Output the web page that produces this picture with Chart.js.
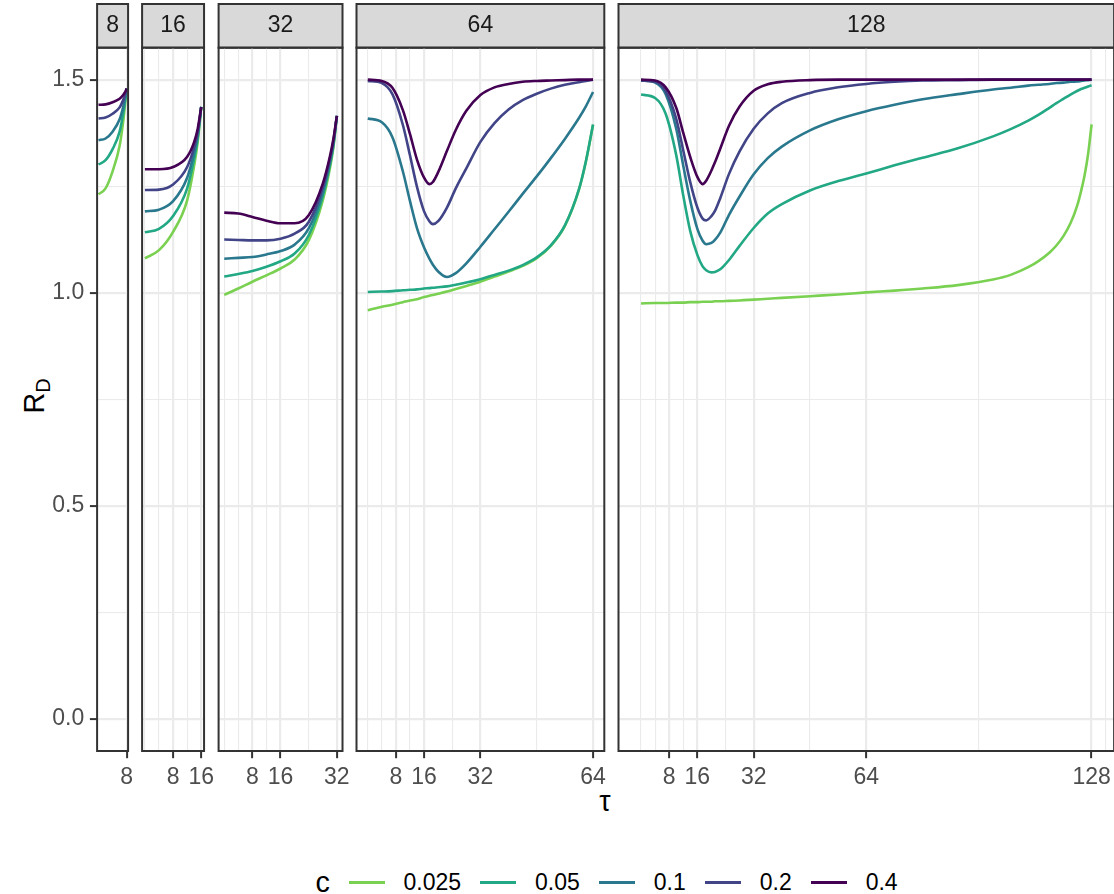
<!DOCTYPE html>
<html>
<head>
<meta charset="utf-8">
<script src="https://cdn.jsdelivr.net/npm/chart.js@4.4.1/dist/chart.umd.min.js"></script>
<style>
  html, body { margin: 0; padding: 0; background: #fff; overflow: hidden; }
  body { width: 1114px; height: 894px; position: relative; font-family: "Liberation Sans", Arial, sans-serif; }
  canvas { position: absolute; top: 0; }
  .ytitle { position: absolute; left: 36px; top: 396px; transform: translate(-50%, -50%) rotate(-90deg);
            font-size: 28.7px; line-height: 1; white-space: nowrap; color: #000; }
  .ytitle sub { font-size: 20px; vertical-align: -0.3em; }
  .xtitle { position: absolute; left: 605px; top: 801px; transform: translate(-50%, -50%);
            font-size: 28.7px; line-height: 1; color: #000; }
  #legend { position: absolute; left: 315.6px; top: 860px; height: 45px; display: flex; align-items: center; color: #000; }
  .ltitle { font-size: 28.7px; margin-right: 14px; line-height: 1; }
  .lkey { width: 45.2px; height: 45px; position: relative; margin-right: 14.4px; }
  .lkey i { position: absolute; left: 4.6px; right: 4.6px; top: 21.2px; height: 2.6px; }
  .llab { font-size: 23px; margin-right: 14.4px; line-height: 1; }
</style>
</head>
<body>
<div class="ytitle">R<sub>D</sub></div>
<div class="xtitle">τ</div>
<div id="legend"></div>
<script>
// facets (N) and colour groups (c)
const panelSizes = [8, 16, 32, 64, 128];
const cLabels = ["0.025", "0.05", "0.1", "0.2", "0.4"];
const xBreaks = [8, 16, 32, 64, 128];
const yBreaks = [0, 0.5, 1, 1.5];
const yMinor = [0.25, 0.75, 1.25];

// rows follow cLabels: 0.025, 0.05, 0.1, 0.2, 0.4
const tau8 = [0, 2, 4, 6, 7, 7.5, 8];
const rd8 = [
  [1.231, 1.245, 1.285, 1.345, 1.401, 1.438, 1.479],
  [1.301, 1.311, 1.337, 1.378, 1.420, 1.447, 1.479],
  [1.358, 1.362, 1.378, 1.407, 1.436, 1.455, 1.479],
  [1.409, 1.411, 1.420, 1.435, 1.452, 1.463, 1.479],
  [1.441, 1.442, 1.447, 1.455, 1.464, 1.470, 1.479]
];

const tau16 = [0, 4, 8, 12, 14, 15, 16];
const rd16 = [
  [1.081, 1.100, 1.143, 1.217, 1.299, 1.354, 1.436],
  [1.142, 1.150, 1.180, 1.245, 1.315, 1.362, 1.436],
  [1.191, 1.195, 1.215, 1.270, 1.329, 1.370, 1.436],
  [1.241, 1.242, 1.254, 1.295, 1.342, 1.377, 1.436],
  [1.290, 1.290, 1.295, 1.319, 1.354, 1.385, 1.436]
];

const tau32 = [0, 4, 8, 12, 16, 20, 24, 28, 30, 31, 32];
const rd32 = [
  [0.995, 1.010, 1.026, 1.041, 1.057, 1.078, 1.123, 1.217, 1.291, 1.340, 1.415],
  [1.038, 1.044, 1.051, 1.061, 1.074, 1.092, 1.135, 1.227, 1.299, 1.345, 1.415],
  [1.080, 1.082, 1.084, 1.090, 1.098, 1.113, 1.151, 1.237, 1.306, 1.350, 1.415],
  [1.125, 1.124, 1.123, 1.123, 1.127, 1.139, 1.166, 1.247, 1.313, 1.355, 1.415],
  [1.188, 1.186, 1.178, 1.169, 1.163, 1.163, 1.182, 1.256, 1.319, 1.360, 1.415]
];

const tau64 = [0, 4, 7, 10, 12, 14, 16, 17.5, 18.5, 20, 22.5, 25, 28, 32, 36, 40, 44, 48, 52, 56, 60, 62, 64];
const rd64 = [
  [0.959, 0.967, 0.972, 0.978, 0.982, 0.985, 0.990, 0.993, 0.995, 0.998, 1.003, 1.009, 1.016, 1.026, 1.038, 1.050, 1.063, 1.081, 1.110, 1.157, 1.242, 1.309, 1.394],
  [1.002, 1.003, 1.004, 1.006, 1.007, 1.008, 1.010, 1.011, 1.012, 1.013, 1.015, 1.019, 1.024, 1.032, 1.042, 1.052, 1.065, 1.083, 1.111, 1.158, 1.243, 1.310, 1.395],
  [1.409, 1.400, 1.365, 1.284, 1.215, 1.151, 1.106, 1.080, 1.066, 1.050, 1.037, 1.046, 1.069, 1.108, 1.149, 1.190, 1.232, 1.273, 1.316, 1.361, 1.410, 1.438, 1.471],
  [1.497, 1.492, 1.466, 1.393, 1.322, 1.248, 1.191, 1.168, 1.161, 1.168, 1.200, 1.245, 1.292, 1.354, 1.398, 1.430, 1.452, 1.467, 1.479, 1.488, 1.494, 1.497, 1.500],
  [1.500, 1.497, 1.481, 1.428, 1.372, 1.312, 1.270, 1.255, 1.260, 1.283, 1.333, 1.382, 1.427, 1.464, 1.482, 1.490, 1.495, 1.497, 1.498, 1.499, 1.500, 1.500, 1.500]
];

const tau128 = [0, 4, 7, 10, 12, 14, 16, 17.5, 18.5, 20, 21, 22.5, 25, 28, 32, 36, 40, 48, 56, 64, 72, 80, 90, 100,
                105, 110, 113, 116, 118, 120, 122, 124, 125, 126, 127, 128];
const rd128 = [
  [0.975, 0.976, 0.976, 0.977, 0.977, 0.978, 0.978, 0.979, 0.979, 0.979, 0.980, 0.980, 0.981, 0.982, 0.984, 0.986, 0.988, 0.992, 0.996, 1.001, 1.005, 1.010, 1.018, 1.031,
   1.042, 1.060, 1.075, 1.094, 1.111, 1.133, 1.163, 1.207, 1.238, 1.275, 1.325, 1.395],
  [1.465, 1.457, 1.420, 1.323, 1.228, 1.144, 1.089, 1.062, 1.053, 1.048, 1.049, 1.055, 1.077, 1.110, 1.152, 1.186, 1.208, 1.240, 1.262, 1.280, 1.299, 1.317, 1.339, 1.367,
   1.384, 1.404, 1.418, 1.434, 1.445, 1.455, 1.465, 1.474, 1.478, 1.481, 1.484, 1.487],
  [1.498, 1.493, 1.466, 1.385, 1.298, 1.215, 1.150, 1.122, 1.114, 1.117, 1.124, 1.141, 1.183, 1.226, 1.278, 1.316, 1.343, 1.381, 1.407, 1.426, 1.441, 1.454, 1.466, 1.477,
   1.481, 1.486, 1.488, 1.490, 1.492, 1.493, 1.495, 1.496, 1.497, 1.498, 1.499, 1.500],
  [1.498, 1.495, 1.473, 1.408, 1.334, 1.259, 1.200, 1.174, 1.170, 1.180, 1.192, 1.222, 1.279, 1.332, 1.385, 1.421, 1.445, 1.469, 1.482, 1.490, 1.495, 1.498, 1.499, 1.500,
   1.500, 1.500, 1.500, 1.500, 1.500, 1.500, 1.500, 1.500, 1.500, 1.500, 1.500, 1.500],
  [1.500, 1.498, 1.482, 1.434, 1.375, 1.318, 1.272, 1.255, 1.263, 1.287, 1.306, 1.338, 1.392, 1.437, 1.474, 1.489, 1.495, 1.499, 1.500, 1.500, 1.500, 1.500, 1.500, 1.500,
   1.500, 1.500, 1.500, 1.500, 1.500, 1.500, 1.500, 1.500, 1.500, 1.500, 1.500, 1.500]
];

const tauSets = [tau8, tau16, tau32, tau64, tau128];
const rdSets = [rd8, rd16, rd32, rd64, rd128];

// viridis, light -> dark
const lineColors = ["#7AD151", "#22A884", "#2A788E", "#414487", "#440154"];

// layout (px)
const PX = 3.52;                 // px per tau unit, same in every facet
const panelLeft = [97.1, 142.1, 218.6, 356.5, 618.5];
const TOP_PAD = 4;
const PANEL_BOTTOM = 751;
const CANVAS_H = 800;
const FONT = '"Liberation Sans", Arial, sans-serif';

Chart.defaults.font.family = FONT;

// ggplot-style minor breaks: midpoints, extended one step past the ends
function minorBreaks(major, lo, hi) {
  if (major.length < 2) return [];
  const bd = major[1] - major[0];
  const b = major.slice();
  if (lo < b[0]) b.unshift(b[0] - bd);
  if (hi > b[b.length - 1]) b.push(b[b.length - 1] + bd);
  const out = [];
  for (let i = 0; i < b.length - 1; i++) out.push(b[i], (b[i] + b[i + 1]) / 2);
  out.push(b[b.length - 1]);
  return out.filter(v => v >= lo && v <= hi && !major.includes(v));
}

const stripPlugin = {
  id: "strip",
  beforeDraw(chart) {
    const { ctx, chartArea: a, titleBlock: t } = chart;
    ctx.save();
    ctx.fillStyle = "#D9D9D9";
    ctx.fillRect(a.left, t.top, a.right - a.left, t.bottom - t.top);
    ctx.strokeStyle = "#333333";
    ctx.lineWidth = 2;
    ctx.strokeRect(a.left, t.top, a.right - a.left, t.bottom - t.top);
    ctx.restore();
  },
  afterDraw(chart) {
    const { ctx, chartArea: a } = chart;
    ctx.save();
    ctx.strokeStyle = "#333333";
    ctx.lineWidth = 2;
    ctx.strokeRect(a.left, a.top, a.right - a.left, a.bottom - a.top);
    ctx.restore();
  }
};

panelSizes.forEach((n, i) => {
  const left = panelLeft[i];
  const right = left + n * 1.1 * PX;
  const cl = i === 0 ? 0 : Math.floor(left) - 10;
  const cr = Math.ceil(right) + 30;   // room for the last tick label
  const cv = document.createElement("canvas");
  cv.width = cr - cl;
  cv.height = CANVAS_H;
  cv.style.left = cl + "px";
  document.body.appendChild(cv);

  // first facet keeps the y labels inside its own axis box
  const padL = i === 0 ? 0 : left - cl;
  const yWidth = i === 0 ? left : 0;

  const majorX = xBreaks.filter(b => b <= n * 1.05);
  const minorX = minorBreaks(majorX, -0.05 * n, 1.05 * n);
  const xTicks = majorX.concat(minorX).sort((a, b) => a - b);
  const yTicks = yBreaks.concat(yMinor).sort((a, b) => a - b);
  const tau = tauSets[i];
  const rd = rdSets[i];

  new Chart(cv, {
    type: "line",
    data: {
      datasets: cLabels.map((c, j) => ({
        label: c,
        data: tau.map((t, k) => ({ x: t, y: rd[j][k] })),
        borderColor: lineColors[j],
        borderWidth: 2.6,
        pointRadius: 0,
        fill: false,
        cubicInterpolationMode: "monotone",
        order: cLabels.length - j
      }))
    },
    options: {
      responsive: false,
      animation: false,
      devicePixelRatio: 1,
      layout: { padding: { left: padL, right: cr - right, top: TOP_PAD, bottom: 0 } },
      plugins: {
        legend: { display: false },
        tooltip: { enabled: false },
        title: {
          display: true,
          text: String(n),
          fullSize: false,
          color: "#1A1A1A",
          font: { size: 23, weight: "normal", lineHeight: 1.2 },
          padding: { top: 8, bottom: 8.1 }
        }
      },
      scales: {
        x: {
          type: "linear",
          min: -0.05 * n,
          max: 1.05 * n,
          afterBuildTicks: s => { s.ticks = xTicks.map(v => ({ value: v })); },
          afterFit: s => { s.height = CANVAS_H - PANEL_BOTTOM; },
          border: { display: false },
          grid: {
            color: "#EBEBEB",
            lineWidth: c => majorX.includes(c.tick.value) ? 2.2 : 1.1,
            tickColor: c => majorX.includes(c.tick.value) ? "#333333" : "rgba(0,0,0,0)",
            tickLength: 7.2,
            tickWidth: 2
          },
          ticks: {
            autoSkip: false,
            maxRotation: 0,
            minRotation: 0,
            padding: 5.7,
            color: "#4D4D4D",
            font: { size: 23 },
            callback: v => majorX.includes(v) ? String(v) : ""
          }
        },
        y: {
          min: -0.075,
          max: 1.575,
          afterBuildTicks: s => { s.ticks = yTicks.map(v => ({ value: v })); },
          afterFit: s => { s.width = yWidth; },
          border: { display: false },
          grid: {
            color: "#EBEBEB",
            lineWidth: c => yBreaks.includes(c.tick.value) ? 2.2 : 1.1,
            tickColor: c => (i === 0 && yBreaks.includes(c.tick.value)) ? "#333333" : "rgba(0,0,0,0)",
            tickLength: 7.2,
            tickWidth: 2
          },
          ticks: {
            display: i === 0,
            autoSkip: false,
            padding: 5.7,
            color: "#4D4D4D",
            font: { size: 23 },
            callback: v => yBreaks.includes(v) ? v.toFixed(1) : ""
          }
        }
      }
    },
    plugins: [stripPlugin]
  });
});

// legend
const legend = document.getElementById("legend");
legend.innerHTML = '<span class="ltitle">c</span>' + cLabels.map((c, j) =>
  '<span class="lkey"><i style="background:' + lineColors[j] + '"></i></span><span class="llab">' + c + '</span>'
).join("");
</script>
</body>
</html>
